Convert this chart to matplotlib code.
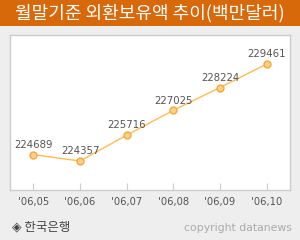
import matplotlib.pyplot as plt
from matplotlib.patches import Rectangle

months = ["'06,05", "'06,06", "'06,07", "'06,08", "'06,09", "'06,10"]
reserves = [224689, 224357, 225716, 227025, 228224, 229461]

title = "월말기준 외환보유액 추이(백만달러)"
source = "◈ 한국은행"
credit = "copyright datanews"


def graph_plot(months, reserves):
    """Line chart of monthly foreign exchange reserves."""
    plt.rcParams['font.family'] = ['Noto Sans CJK KR', 'DejaVu Sans']
    fig = plt.figure(figsize=(3, 2.4), dpi=100, facecolor='#eeeeee')

    # orange title bar
    fig.patches.append(Rectangle((0, 1 - 26 / 240), 1, 26 / 240, transform=fig.transFigure,
                                 facecolor='#d7690b', edgecolor='none', zorder=0))
    fig.text(0.5, 1 - 13 / 240, title, color='white', fontsize=13, fontweight='medium',
             ha='center', va='center')

    ax = fig.add_axes([10 / 300, 50 / 240, 280 / 300, 155 / 240])
    ax.set_facecolor('white')
    x = list(range(len(months)))
    ax.plot(x, reserves, color='#ffbb55', linewidth=1, marker='o', markersize=5,
            markerfacecolor='#ffd08a', markeredgecolor='#f5a83a', markeredgewidth=1)
    for xi, v in zip(x, reserves):
        ax.annotate(str(v), (xi, v), xytext=(0, 7), textcoords='offset points',
                    ha='center', va='center', fontsize=7.3, color='#555555',
                    family='DejaVu Sans')

    ax.set_xlim(-0.5, len(months) - 0.5)
    ax.set_ylim(222831, 230987)
    ax.set_yticks([])
    ax.set_xticks(x)
    ax.set_xticklabels(months, fontsize=7.2, color='#555555', family='DejaVu Sans')
    ax.tick_params(axis='x', direction='in', length=5, color='#cccccc', pad=5)
    for s in ax.spines.values():
        s.set_color('#cccccc')
        s.set_linewidth(1)

    fig.text(12 / 300, 1 - 227 / 240, source, fontsize=9, color='#444444', va='center')
    fig.text(292 / 300, 1 - 228 / 240, credit, fontsize=7.8, color='#aaaaaa', va='center',
             ha='right', family='DejaVu Sans')

    fig.savefig('out.png', dpi=100, facecolor=fig.get_facecolor())


def main():
    graph_plot(months, reserves)


if __name__ == "__main__":
    main()
